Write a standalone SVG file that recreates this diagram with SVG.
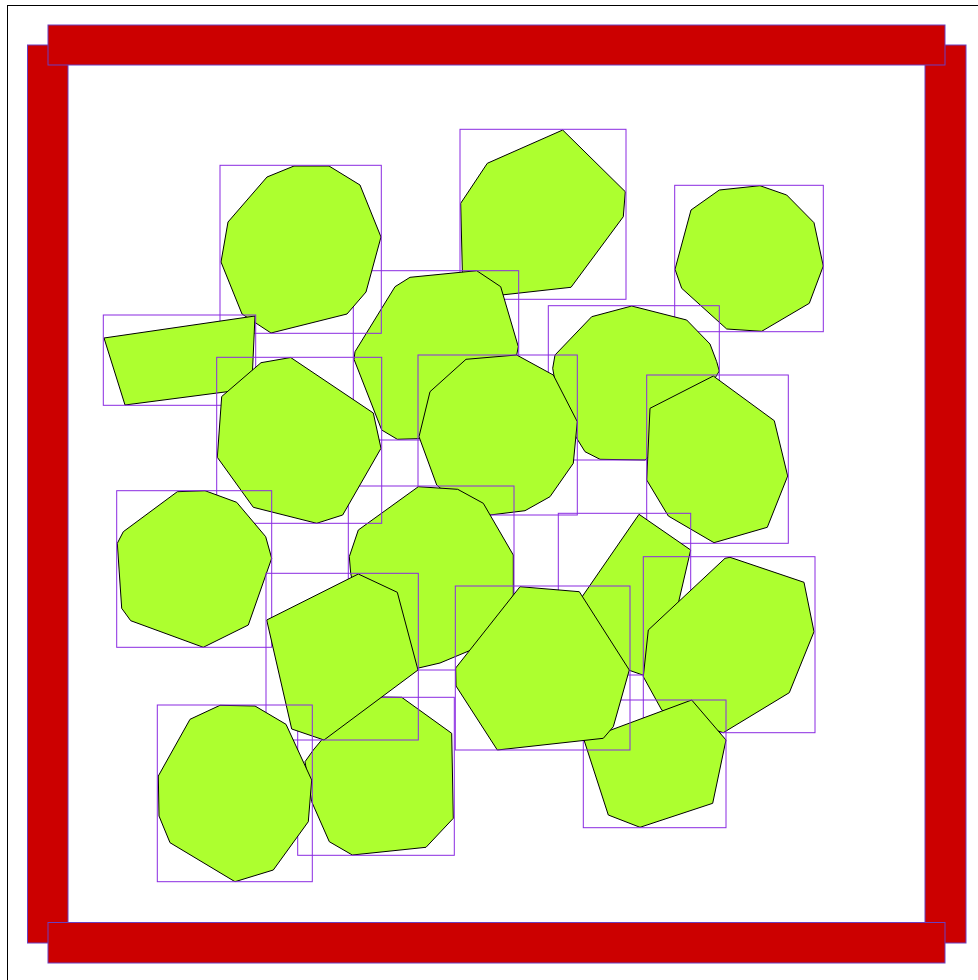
<svg xmlns="http://www.w3.org/2000/svg" width="978" height="980" viewBox="0 0 978 980">
<style>
.bar{fill:#cc0000;stroke:#6a3fc0;stroke-width:1}
.poly{fill:#adff2f;stroke:#000;stroke-width:1;stroke-linejoin:miter}
.box{fill:none;stroke:#8a2be2;stroke-width:1}
</style>
<rect x="0" y="0" width="978" height="980" fill="#fff"/>
<rect x="7.5" y="5.5" width="980" height="985" fill="none" stroke="#000" stroke-width="1"/>
<g id="frame">
<rect class="bar" x="27.5" y="45" width="40.5" height="898"/>
<rect class="bar" x="925" y="45" width="41" height="898"/>
<rect class="bar" x="48" y="25" width="897" height="40"/>
<rect class="bar" x="48" y="922.5" width="897" height="40.5"/>
</g>
<g id="G"><polygon class="poly" points="562.7,130 625.3,191.7 623.3,216.7 571,287.3 463,299.3 460.7,203.3 487.3,163.3"/><rect class="box" x="460" y="129.3" width="166" height="170"/></g>
<g id="C"><polygon class="poly" points="476.7,270.7 500.7,286.7 518.3,346.7 516.7,355 505,420 450,436 417.3,438.7 397.3,439.3 381.7,430 354,359.3 355,351.7 395,286.7 410,277.3"/><rect class="box" x="353.3" y="270.7" width="165.4" height="169.3"/></g>
<g id="A"><polygon class="poly" points="294,166 329,166 360,185 381,237 366,292 347,314 271,333 242,314 221,262 228,222 267,177"/><rect class="box" x="220" y="165.3" width="161.3" height="168"/></g>
<g id="B"><polygon class="poly" points="104,338 255,316 251.7,388.5 125,405"/><rect class="box" x="103.3" y="315" width="152.4" height="90.3"/></g>
<g id="J"><polygon class="poly" points="719.3,190 760,185.7 786.7,195 814,222.7 823.3,266 809.3,303.3 761.7,331.3 726.7,329 681.7,288.3 675,269.3 691,210"/><rect class="box" x="674.7" y="185.3" width="148.6" height="146.4"/></g>
<g id="I"><polygon class="poly" points="631.7,306 686.7,320 710,344 716.7,361.7 719.3,371 690,420 645,460 600,459.3 585,451.7 576.7,438.3 560,410 552.7,368.3 555,355 591.7,316.7"/><rect class="box" x="548.3" y="305.7" width="171" height="154.3"/></g>
<g id="H"><polygon class="poly" points="713.3,376 774.3,420.7 787.7,476 767.3,527.3 714,542.7 668.3,516 646.7,480 650,408.3"/><rect class="box" x="646.7" y="375" width="141.6" height="168.3"/></g>
<g id="E"><polygon class="poly" points="466,359.3 516.7,355 553.3,375 577.3,421.7 573.3,463.3 550,496.7 525,510.7 490,515 460,505 436.7,485 419,436.7 430,391.7"/><rect class="box" x="418" y="355" width="159.3" height="160"/></g>
<g id="F"><polygon class="poly" points="418.3,486.7 457.7,489.3 483.3,503.3 513.3,555 513.3,595 510,612 495,640 440,663 410,670 365,640 350.7,573.3 349.3,556.7 358.3,530"/><rect class="box" x="348.3" y="486" width="165.7" height="184"/></g>
<g id="D"><polygon class="poly" points="290.7,357.5 373.3,413 381,448.3 342.7,515 316.7,523.3 253.3,507.3 217.3,457.3 221.7,396.5 261,362.7"/><rect class="box" x="216.7" y="357.3" width="165" height="166"/></g>
<g id="K"><polygon class="poly" points="177.3,491.7 205,490.7 236.7,502.3 265.7,536.7 271.7,558.3 248.3,625 203.3,647.3 130.7,620.7 121.7,608.3 117.3,543.3 123.3,531.7"/><rect class="box" x="116.7" y="490.7" width="155" height="156.6"/></g>
<g id="Q"><polygon class="poly" points="401.7,697.3 451.7,733.3 453.3,818.3 426,847.3 352.3,855 329.3,841.7 311.7,801.7 305,761.7 313.3,750 345,712 380,697"/><rect class="box" x="297.7" y="697.3" width="156.6" height="158"/></g>
<g id="M"><polygon class="poly" points="358.3,574 397.3,592.3 418,670 324,740 291.7,729 266.7,620"/><rect class="box" x="266" y="573.3" width="152.3" height="166.7"/></g>
<g id="P"><polygon class="poly" points="220,705.3 255,706 286,724.3 311.7,780 308.3,821.7 273.3,870 235,881.7 170,842.7 159,816 158.3,776 190,719.3"/><rect class="box" x="157.3" y="705" width="155" height="176.7"/></g>
<g id="L"><polygon class="poly" points="639,514.3 690.7,550 678.3,603.3 665,650 642.7,675 600,660 560,632 583.3,595"/><rect class="box" x="558.3" y="513.3" width="132.4" height="161.7"/></g>
<g id="O"><polygon class="poly" points="725,558.3 730,557.3 804,582.3 814,631.7 789.3,692.7 723.3,732.7 690,722 661.7,710 643.3,676.7 648.3,630"/><rect class="box" x="643.3" y="556.7" width="171.7" height="176"/></g>
<g id="R"><polygon class="poly" points="691.7,700 726,740 712.7,803.3 640,827.3 608.3,815 584,740"/><rect class="box" x="583.3" y="700" width="142.7" height="127.7"/></g>
<g id="N"><polygon class="poly" points="520,586.7 579.3,591.7 629.3,670 613.3,726.7 603.3,738.3 497.3,750 456,686 455.7,668"/><rect class="box" x="455.3" y="586" width="174.7" height="164"/></g>
<g id="connectors"/>
</svg>
